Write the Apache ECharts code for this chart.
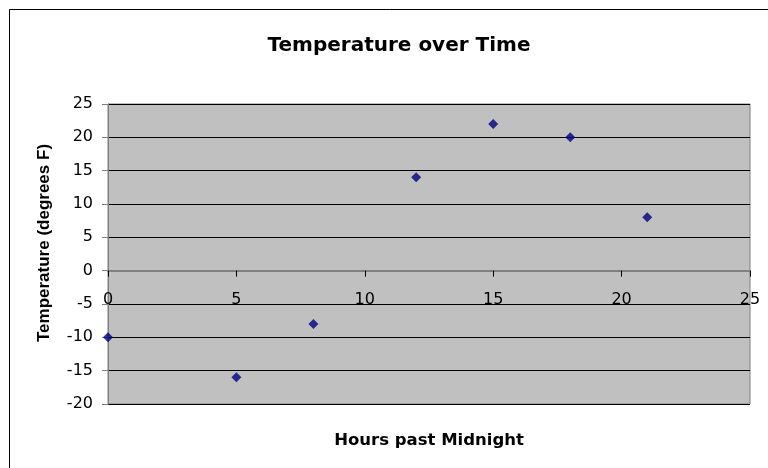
<!DOCTYPE html>
<html>
<head>
<meta charset="utf-8">
<script src="https://cdn.jsdelivr.net/npm/echarts@6/dist/echarts.min.js"></script>
<style>
  html, body { margin: 0; padding: 0; background: #fff; }
  #chart { width: 768px; height: 468px; }
</style>
</head>
<body>
<div id="chart"></div>
<script>
// Hourly temperature readings
const hours = [0, 5, 8, 12, 15, 18, 21];
const temperatures = [-10, -16, -8, 14, 22, 20, 8];

const xTicks = { min: 0, max: 25, step: 5 };
const yTicks = { min: -20, max: 25, step: 5 };

const WIDE_FONT = '"DejaVu Sans", Verdana, sans-serif';
const FONT = '"Liberation Sans", Arial, sans-serif';

const points = hours.map((h, i) => [h, temperatures[i]]);

const chart = echarts.init(document.getElementById('chart'), null, { renderer: 'canvas' });

chart.setOption({
  animation: false,
  backgroundColor: '#ffffff',
  title: {
    text: 'Temperature over Time',
    left: 394,
    textAlign: 'center',
    top: 31,
    textStyle: { fontFamily: WIDE_FONT, fontSize: 20, fontWeight: 'bold', color: '#000' }
  },
  graphic: [{
    type: 'rect',
    shape: { x: 9.5, y: 9.5, width: 800, height: 500 },
    style: { fill: 'none', stroke: '#000', lineWidth: 1 },
    silent: true,
    z: -1
  }],
  grid: {
    left: 108,
    top: 104,
    right: 18,
    bottom: 64,
    outerBoundsMode: 'none',
    containLabel: false,
    show: true,
    backgroundColor: '#C0C0C0',
    borderColor: '#808080',
    borderWidth: 1
  },
  xAxis: {
    type: 'value',
    min: xTicks.min,
    max: xTicks.max,
    interval: xTicks.step,
    name: 'Hours past Midnight',
    nameLocation: 'middle',
    nameGap: 28,
    nameTextStyle: { fontFamily: WIDE_FONT, fontSize: 16.5, fontWeight: 'bold', color: '#000' },
    axisLine: { onZero: true, lineStyle: { color: '#808080', width: 2 } },
    axisTick: { show: true, length: 6, lineStyle: { color: '#000' } },
    axisLabel: { fontFamily: WIDE_FONT, fontSize: 16, color: '#000', margin: -112 },
    splitLine: { show: false }
  },
  yAxis: {
    type: 'value',
    min: yTicks.min,
    max: yTicks.max,
    interval: yTicks.step,
    name: 'Temperature (degrees F)',
    nameLocation: 'middle',
    nameGap: 55,
    nameTextStyle: {
      fontFamily: FONT, fontSize: 17, fontWeight: 'bold', color: '#000',
      padding: [0, 0, 0, 22]
    },
    axisLine: { show: true, onZero: false, lineStyle: { color: '#808080', width: 1 } },
    axisTick: { show: true, length: 6, lineStyle: { color: '#808080' } },
    axisLabel: { fontFamily: WIDE_FONT, fontSize: 16, color: '#000', margin: 15 },
    splitLine: { show: true, lineStyle: { color: '#000', width: 1 } }
  },
  series: [{
    type: 'scatter',
    data: points,
    symbol: 'diamond',
    symbolSize: 10,
    itemStyle: { color: '#000080' }
  }]
});
</script>
</body>
</html>
